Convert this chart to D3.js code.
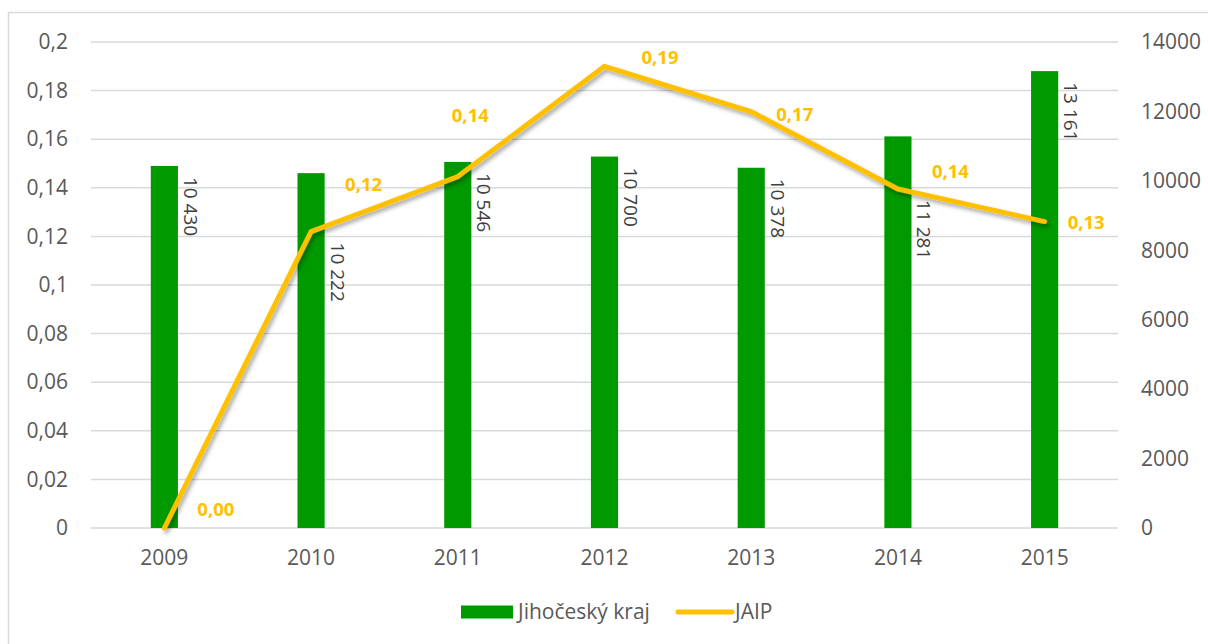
<!DOCTYPE html>
<html>
<head>
<meta charset="utf-8">
<script src="https://cdn.jsdelivr.net/npm/d3@7"></script>
<style>
  body { margin: 0; background: #fff; }
  svg { display: block; font-family: "Open Sans", "Noto Sans", sans-serif; }
</style>
</head>
<body>
<div id="chart"></div>
<script>
// JAIP vs. Jihočeský kraj, 2009-2015

const years = ["2009", "2010", "2011", "2012", "2013", "2014", "2015"];
const krajValues = [10430, 10222, 10546, 10700, 10378, 11281, 13161];
const jaipValues = [0, 0.122, 0.1446, 0.190, 0.1713, 0.1395, 0.1261];
const jaipLabels = ["0,00", "0,12", "0,14", "0,19", "0,17", "0,14", "0,13"];
const seriesNames = ["Jihočeský kraj", "JAIP"];

// manual label nudges (like annotation dx/dy), px from the line point
const jaipLabelNudge = [[33, -18], [34, -47], [-6, -61], [37, -9], [25, 3], [34, -17], [23, 1]];

let width = 1208,
    height = 644,
    margin = ({ top: 42, right: 90, bottom: 116, left: 91 });

const green = "#009900",
      gold = "#FFC000",
      grid = "#d9d9d9",
      tickColor = "#595959";

const svg = d3.select("#chart")
    .append("svg")
    .attr("width", width)
    .attr("height", height)
    .attr("viewBox", [0, 0, width, height]);

const defs = svg.append("defs");
const shadow = defs.append("filter")
    .attr("id", "shadow")
    .attr("x", "-5%").attr("y", "-5%")
    .attr("width", "110%").attr("height", "110%");
shadow.append("feDropShadow")
    .attr("dx", 2).attr("dy", 3)
    .attr("stdDeviation", 2)
    .attr("flood-color", "#000")
    .attr("flood-opacity", 0.35);

// outer frame
svg.append("rect")
    .attr("x", 8.5).attr("y", 12.5)
    .attr("width", width).attr("height", height)
    .attr("fill", "none")
    .attr("stroke", grid)
    .attr("stroke-width", 1.5);

let x = d3.scaleBand()
    .domain(years)
    .range([margin.left, width - margin.right])
    .padding(0);

let yLeft = d3.scaleLinear()
    .domain([0, 0.2])
    .range([height - margin.bottom, margin.top]);

let yRight = d3.scaleLinear()
    .domain([0, 14000])
    .range([height - margin.bottom, margin.top]);

const fmtLeft = d => String(+d.toFixed(2)).replace(".", ",");

// gridlines
svg.append("g")
    .selectAll("line")
    .data(yLeft.ticks(10))
    .join("line")
    .attr("x1", margin.left)
    .attr("x2", width - margin.right)
    .attr("y1", d => yLeft(d))
    .attr("y2", d => yLeft(d))
    .attr("stroke", grid)
    .attr("stroke-width", 1.5);

const leftAxis = svg.append("g")
    .attr("transform", `translate(${margin.left - 23},0)`)
    .call(d3.axisLeft(yLeft).ticks(10).tickSize(0).tickPadding(0).tickFormat(fmtLeft));

const rightAxis = svg.append("g")
    .attr("transform", `translate(${width - margin.right + 23},0)`)
    .call(d3.axisRight(yRight).ticks(7).tickSize(0).tickPadding(0).tickFormat(d3.format("d")));

const xAxis = svg.append("g")
    .attr("transform", `translate(0,${height - margin.bottom + 30})`)
    .call(d3.axisBottom(x).tickSize(0).tickPadding(0));

for (let a of [leftAxis, rightAxis, xAxis]) {
    a.select(".domain").remove();
    a.selectAll("text")
        .attr("fill", tickColor)
        .style("font-size", "21px")
        .style("font-family", "'Open Sans', sans-serif");
}
xAxis.selectAll("text").attr("dy", "0.35em").attr("y", 0);

// bars
const barW = x.bandwidth() * 0.185;
const barData = years.map((yr, i) => ({ year: yr, value: krajValues[i], jaip: jaipValues[i] }));

svg.append("g")
    .selectAll("rect")
    .data(barData)
    .join("rect")
    .attr("x", d => x(d.year) + x.bandwidth() / 2 - barW / 2)
    .attr("y", d => yRight(d.value))
    .attr("width", barW)
    .attr("height", d => yRight(0) - yRight(d.value))
    .attr("fill", green);

// bar labels, rotated, pushed below the line when it crosses the bar top
svg.append("g")
    .selectAll("text")
    .data(barData)
    .join("text")
    .attr("transform", d => {
        let top = yRight(d.value);
        let ly = yLeft(d.jaip);
        let start = (ly - top > 30 && ly - top < 100) ? ly + 11 : top + 11;
        let bx = x(d.year) + x.bandwidth() / 2 + barW / 2 + 6;
        return `translate(${bx},${start}) rotate(90)`;
    })
    .attr("fill", "#404040")
    .style("font-size", "19px")
    .text(d => d3.format(",")(d.value).replace(",", " "));

// JAIP line
const line = d3.line()
    .x((d, i) => x(years[i]) + x.bandwidth() / 2)
    .y(d => yLeft(d));

svg.append("path")
    .datum(jaipValues)
    .attr("d", line)
    .attr("fill", "none")
    .attr("stroke", gold)
    .attr("stroke-width", 5)
    .attr("stroke-linejoin", "round")
    .attr("stroke-linecap", "round")
    .attr("filter", "url(#shadow)");

svg.append("g")
    .selectAll("text")
    .data(jaipValues)
    .join("text")
    .attr("x", (d, i) => x(years[i]) + x.bandwidth() / 2 + jaipLabelNudge[i][0])
    .attr("y", (d, i) => yLeft(d) + jaipLabelNudge[i][1])
    .attr("dy", "0.35em")
    .attr("fill", gold)
    .style("font-size", "18.5px")
    .style("font-weight", "bold")
    .text((d, i) => jaipLabels[i]);

// legend
const legend = svg.append("g")
    .attr("transform", `translate(461,612)`);

legend.append("rect")
    .attr("x", 0).attr("y", -6.5)
    .attr("width", 52).attr("height", 13)
    .attr("fill", green);

legend.append("text")
    .attr("x", 57).attr("dy", "0.35em")
    .attr("fill", tickColor)
    .style("font-size", "21px")
    .text(seriesNames[0]);

legend.append("line")
    .attr("x1", 217).attr("x2", 271)
    .attr("stroke", gold)
    .attr("stroke-width", 5)
    .attr("stroke-linecap", "round");

legend.append("text")
    .attr("x", 274).attr("dy", "0.35em")
    .attr("fill", tickColor)
    .style("font-size", "21px")
    .text(seriesNames[1]);
</script>
</body>
</html>
